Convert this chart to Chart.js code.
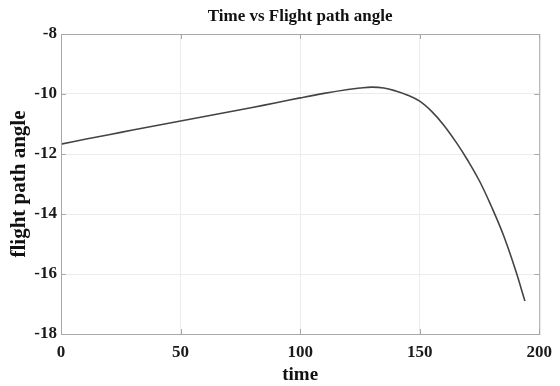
<!DOCTYPE html>
<html>
<head>
<meta charset="utf-8">
<script src="https://cdn.jsdelivr.net/npm/chart.js@4/dist/chart.umd.min.js"></script>
<style>
  html, body { margin: 0; padding: 0; background: #fff; }
  #wrap { width: 560px; height: 386px; }
</style>
</head>
<body>
<div id="wrap"><canvas id="chart"></canvas></div>
<script>
// values
const times = [0, 10, 20, 30, 40, 50, 60, 70, 80, 90, 100, 110, 120, 125, 130, 135, 140, 145, 150, 155, 160, 165, 170, 175, 180, 185, 190, 194];
const angles = [-11.67, -11.51, -11.36, -11.2, -11.05, -10.9, -10.75, -10.6, -10.45, -10.29, -10.13, -9.98, -9.85, -9.8, -9.77, -9.8, -9.9, -10.04, -10.24, -10.58, -11.03, -11.58, -12.2, -12.9, -13.75, -14.7, -15.85, -16.9];
const xTicks = [0, 50, 100, 150, 200];
const yTicks = [-18, -16, -14, -12, -10, -8];
const chartTitle = 'Time vs Flight path angle';

const serif = '"Liberation Serif", "Times New Roman", serif';

// MATLAB style box with inward tick marks, title centred on the axes
const boxPlugin = {
  id: 'box',
  afterDraw(chart) {
    const { ctx, chartArea: a, scales } = chart;
    ctx.save();
    ctx.strokeStyle = '#a8a8a8';
    ctx.lineWidth = 1;
    ctx.strokeRect(a.left + 0.5, a.top + 0.5, a.right - a.left, a.bottom - a.top);
    ctx.beginPath();
    xTicks.forEach(v => {
      const x = Math.round(scales.x.getPixelForValue(v)) + 0.5;
      ctx.moveTo(x, a.bottom); ctx.lineTo(x, a.bottom - 5);
      ctx.moveTo(x, a.top); ctx.lineTo(x, a.top + 5);
    });
    yTicks.forEach(v => {
      const y = Math.round(scales.y.getPixelForValue(v)) + 0.5;
      ctx.moveTo(a.left, y); ctx.lineTo(a.left + 5, y);
      ctx.moveTo(a.right, y); ctx.lineTo(a.right - 5, y);
    });
    ctx.stroke();

    ctx.fillStyle = '#111';
    ctx.font = 'bold 17px ' + serif;
    ctx.textAlign = 'center';
    ctx.textBaseline = 'middle';
    ctx.fillText(chartTitle, (a.left + a.right) / 2, 17);
    ctx.restore();
  }
};

new Chart(document.getElementById('chart'), {
  type: 'line',
  data: {
    datasets: [{
      data: times.map((t, i) => ({ x: t, y: angles[i] })),
      borderColor: '#444',
      borderWidth: 1.6,
      pointRadius: 0,
      tension: 0.4,
      fill: false
    }]
  },
  options: {
    responsive: true,
    maintainAspectRatio: false,
    animation: false,
    layout: { padding: { left: 0, right: 19, top: 34, bottom: 0 } },
    plugins: {
      legend: { display: false },
      tooltip: { enabled: false },
      title: { display: false }
    },
    scales: {
      x: {
        type: 'linear',
        min: 0,
        max: 200,
        afterBuildTicks: s => { s.ticks = xTicks.map(v => ({ value: v })); },
        afterFit: s => { s.height = 52; },
        grid: { color: '#ececec', drawTicks: false },
        border: { display: false },
        ticks: {
          color: '#1a1a1a',
          padding: 8,
          maxRotation: 0,
          font: { family: serif, size: 17, weight: 'bold' }
        },
        title: {
          display: true,
          text: 'time',
          color: '#111',
          font: { family: serif, size: 19, weight: 'bold' },
          padding: { top: 0, bottom: 0 }
        }
      },
      y: {
        min: -18,
        max: -8,
        afterBuildTicks: s => { s.ticks = yTicks.map(v => ({ value: v })); },
        afterFit: s => { s.width = 61; },
        grid: { color: '#ececec', drawTicks: false },
        border: { display: false },
        ticks: {
          color: '#1a1a1a',
          padding: 4,
          font: { family: serif, size: 17, weight: 'bold' }
        },
        title: {
          display: true,
          text: 'flight path angle',
          color: '#111',
          font: { family: serif, size: 21, weight: 'bold' },
          padding: { top: 7, bottom: 0 }
        }
      }
    }
  },
  plugins: [boxPlugin]
});
</script>
</body>
</html>
